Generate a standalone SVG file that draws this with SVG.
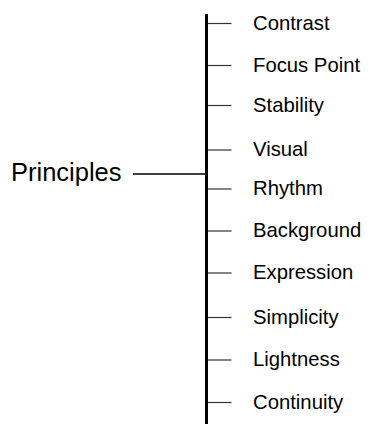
<svg xmlns="http://www.w3.org/2000/svg" width="380" height="424" viewBox="0 0 380 424">
<style>
.lbl{font-family:"Liberation Sans",Arial,sans-serif;font-size:20.3px;fill:#000}
.root{font-family:"Liberation Sans",Arial,sans-serif;font-size:25.5px;fill:#000}
.tick{stroke:#333;stroke-width:1.2}
</style>
<rect width="380" height="424" fill="#fff"/>
<g id="connectors">
<line x1="206.5" y1="14" x2="206.5" y2="424" stroke="#000" stroke-width="3"/>
<line x1="133" y1="174" x2="206" y2="174" stroke="#000" stroke-width="1.4"/>
<line class="tick" x1="208" y1="23.5" x2="231.5" y2="23.5"/>
<line class="tick" x1="208" y1="65.5" x2="231.5" y2="65.5"/>
<line class="tick" x1="208" y1="105.5" x2="231.5" y2="105.5"/>
<line class="tick" x1="208" y1="150" x2="231.5" y2="150"/>
<line class="tick" x1="208" y1="189" x2="231.5" y2="189"/>
<line class="tick" x1="208" y1="231" x2="231.5" y2="231"/>
<line class="tick" x1="208" y1="273" x2="231.5" y2="273"/>
<line class="tick" x1="208" y1="317.5" x2="231.5" y2="317.5"/>
<line class="tick" x1="208" y1="360" x2="231.5" y2="360"/>
<line class="tick" x1="208" y1="402.5" x2="231.5" y2="402.5"/>
</g>
<g id="principles"><text class="root" x="11" y="181">Principles</text></g>
<g id="contrast"><text class="lbl" x="253" y="29.5">Contrast</text></g>
<g id="focus-point"><text class="lbl" x="253" y="71.5">Focus Point</text></g>
<g id="stability"><text class="lbl" x="253" y="111.5">Stability</text></g>
<g id="visual"><text class="lbl" x="253" y="156">Visual</text></g>
<g id="rhythm"><text class="lbl" x="253" y="195">Rhythm</text></g>
<g id="background"><text class="lbl" x="253" y="237">Background</text></g>
<g id="expression"><text class="lbl" x="253" y="279">Expression</text></g>
<g id="simplicity"><text class="lbl" x="253" y="323.5">Simplicity</text></g>
<g id="lightness"><text class="lbl" x="253" y="366">Lightness</text></g>
<g id="continuity"><text class="lbl" x="253" y="408.5">Continuity</text></g>
</svg>
